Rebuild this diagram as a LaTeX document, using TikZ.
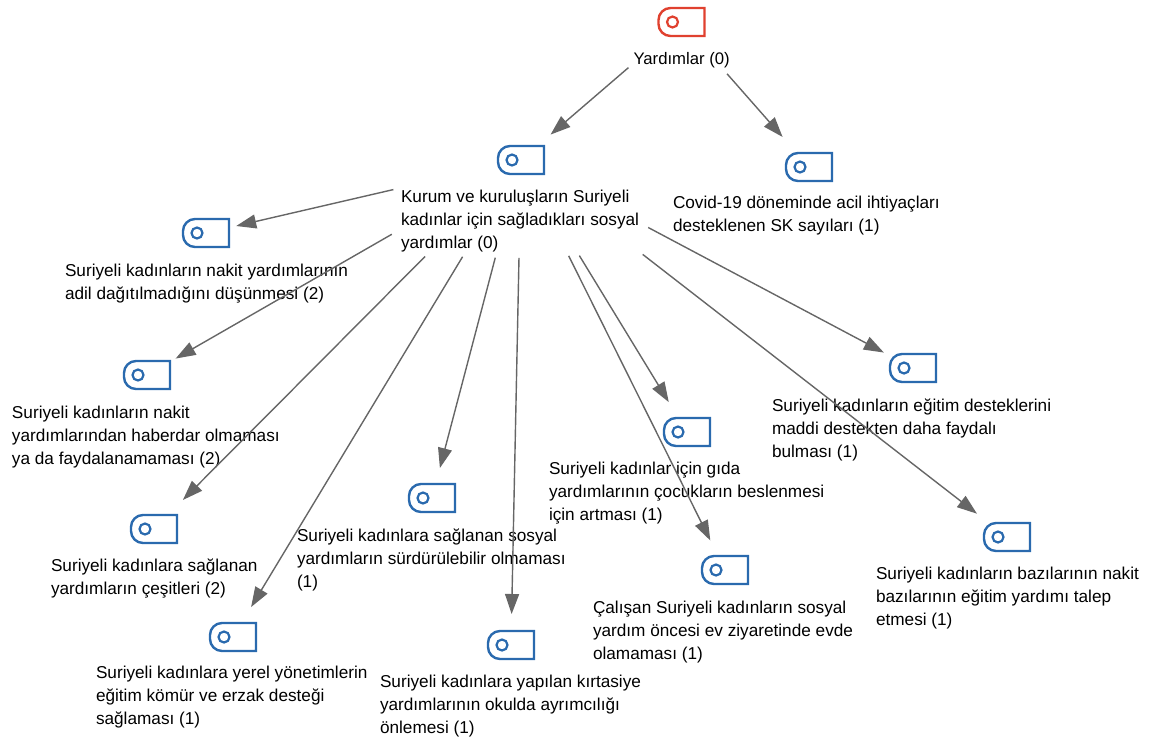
\documentclass[tikz,border=0pt]{standalone}
\usepackage{fontspec}
\setmainfont{Liberation Sans}
\usetikzlibrary{arrows.meta}
\definecolor{rootred}{HTML}{E0412F}
\definecolor{iconblue}{HTML}{2A6AAE}
\definecolor{arrowgray}{HTML}{666666}
\tikzset{
  iconbox/.style={minimum width=46pt,minimum height=28pt,inner sep=0pt,outer sep=0pt},
  label/.style={anchor=base west,inner sep=0pt,outer sep=0pt,text=black,font=\fontsize{17.2}{23}\selectfont},
  rootlabel/.style={label,font=\fontsize{16.7}{23}\selectfont},
  conn/.style={draw=arrowgray,line width=1.4pt,-{Triangle[length=20pt,width=14pt]}},
}
\newcommand{\tagicon}[4]{%
  \node[iconbox] (#1) at (#2,#3) {};
  \draw[#4,line width=2.4pt,line join=miter] (#1.north east) -- (#1.south east) -- ([xshift=12pt]#1.south west)
    arc[start angle=270,end angle=180,radius=12pt] -- ([yshift=-12pt]#1.north west)
    arc[start angle=180,end angle=90,radius=12pt] -- cycle;
  \draw[#4,line width=2.2pt] ([xshift=-9pt]#1.center) circle[radius=5.5pt];
}
\newcommand{\txt}[4]{\node[label] (#1) at (#2,#3) {\begin{tabular}[t]{@{}l@{}}#4\end{tabular}};}
\begin{document}
\begin{tikzpicture}[x=1pt,y=-1pt]
\useasboundingbox (0,0) rectangle (1150,740);
\tagicon{iroot}{681.5}{22}{rootred}
\tagicon{ikurum}{521}{160}{iconblue}
\tagicon{icovid}{809}{167}{iconblue}
\tagicon{inakit}{206}{233}{iconblue}
\tagicon{ihaber}{147}{375}{iconblue}
\tagicon{icesit}{154}{529}{iconblue}
\tagicon{iyerel}{233}{637}{iconblue}
\tagicon{isurdur}{432}{498}{iconblue}
\tagicon{ikirt}{511}{645}{iconblue}
\tagicon{igida}{687}{432}{iconblue}
\tagicon{icalis}{725}{570}{iconblue}
\tagicon{iegit}{913}{368}{iconblue}
\tagicon{ibaz}{1007}{537}{iconblue}

\node[rootlabel] (troot) at (633.5,64) {Yardımlar (0)};
\txt{tkurum}{401}{202}{Kurum ve kuruluşların Suriyeli\\kadınlar için sağladıkları sosyal\\yardımlar (0)}
\txt{tcovid}{673}{208}{Covid-19 döneminde acil ihtiyaçları\\desteklenen SK sayıları (1)}
\txt{tnakit}{65}{276.5}{Suriyeli kadınların nakit yardımlarının\\adil dağıtılmadığını düşünmesi (2)}
\txt{thaber}{12}{418}{Suriyeli kadınların nakit\\yardımlarından haberdar olmaması\\ya da faydalanamaması (2)}
\txt{tcesit}{51}{571}{Suriyeli kadınlara sağlanan\\yardımların çeşitleri (2)}
\txt{tyerel}{96}{678}{Suriyeli kadınlara yerel yönetimlerin\\eğitim kömür ve erzak desteği\\sağlaması (1)}
\txt{tsurdur}{297}{541}{Suriyeli kadınlara sağlanan sosyal\\yardımların sürdürülebilir olmaması\\(1)}
\txt{tkirt}{380}{687}{Suriyeli kadınlara yapılan kırtasiye\\yardımlarının okulda ayrımcılığı\\önlemesi (1)}
\txt{tgida}{549}{474}{Suriyeli kadınlar için gıda\\yardımlarının çocukların beslenmesi\\için artması (1)}
\txt{tcalis}{593}{613}{Çalışan Suriyeli kadınların sosyal\\yardım öncesi ev ziyaretinde evde\\olamaması (1)}
\txt{tegit}{772}{411}{Suriyeli kadınların eğitim desteklerini\\maddi destekten daha faydalı\\bulması (1)}
\txt{tbaz}{876}{579}{Suriyeli kadınların bazılarının nakit\\bazılarının eğitim yardımı talep\\etmesi (1)}

\draw[conn,shorten <=70pt,shorten >=39pt] (iroot.center) -- (ikurum.center);
\draw[conn,shorten <=69pt,shorten >=40pt] (iroot.center) -- (icovid.center);
\draw[conn,shorten <=131pt,shorten >=31pt] (ikurum.center) -- (inakit.center);
\draw[conn,shorten <=149pt,shorten >=33pt] (ikurum.center) -- (ihaber.center);
\draw[conn,shorten <=136pt,shorten >=41pt] (ikurum.center) -- (icesit.center);
\draw[conn,shorten <=113pt,shorten >=35pt] (ikurum.center) -- (iyerel.center);
\draw[conn,shorten <=101pt,shorten >=31pt] (ikurum.center) -- (isurdur.center);
\draw[conn,shorten <=98pt,shorten >=31pt] (ikurum.center) -- (ikirt.center);
\draw[conn,shorten <=112pt,shorten >=35pt] (ikurum.center) -- (igida.center);
\draw[conn,shorten <=107pt,shorten >=33pt] (ikurum.center) -- (icalis.center);
\draw[conn,shorten <=144pt,shorten >=33pt] (ikurum.center) -- (iegit.center);
\draw[conn,shorten <=154pt,shorten >=38pt] (ikurum.center) -- (ibaz.center);
\end{tikzpicture}
\end{document}
